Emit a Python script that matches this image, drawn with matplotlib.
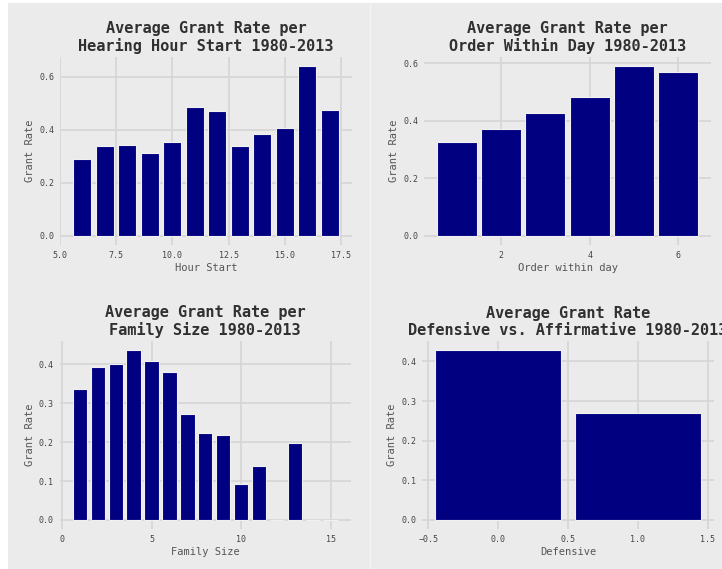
import matplotlib
matplotlib.use("Agg")
import matplotlib.pyplot as plt
from matplotlib.patches import Rectangle
from matplotlib.lines import Line2D

# data
hours = [6, 7, 8, 9, 10, 11, 12, 13, 14, 15, 16, 17]
hour_rate = [0.289, 0.339, 0.342, 0.314, 0.353, 0.485, 0.473, 0.339, 0.383, 0.406, 0.643, 0.476]

order = [1, 2, 3, 4, 5, 6]
order_rate = [0.327, 0.373, 0.426, 0.482, 0.592, 0.570]

family = [1, 2, 3, 4, 5, 6, 7, 8, 9, 10, 11, 12, 13, 14, 15]
family_rate = [0.337, 0.394, 0.401, 0.438, 0.409, 0.379, 0.272, 0.224, 0.218,
               0.092, 0.138, 0.0, 0.199, 0.0, 0.0]

defensive = [0, 1]
defensive_rate = [0.430, 0.2695]

W, H = 722, 569
BG = "#ebebeb"
GRID = "#d6d6d6"
BAR = "#000080"
MONO = "DejaVu Sans Mono"

plt.rcParams["font.family"] = MONO

fig = plt.figure(figsize=(W / 100, H / 100), dpi=100)
fig.patch.set_facecolor("white")
# gray backdrop with thin white margins at left and top
fig.patches.append(Rectangle((8 / W, 0), 1, 1 - 3 / H, transform=fig.transFigure,
                             facecolor=BG, edgecolor="none", zorder=-10))
fig.lines.append(Line2D([370 / W, 370 / W], [0, 1 - 3 / H], transform=fig.transFigure,
                        color="#f3f3f3", lw=1, zorder=-9))


def make_ax(x0, x1, y0, y1):
    ax = fig.add_axes([x0 / W, 1 - y1 / H, (x1 - x0) / W, (y1 - y0) / H])
    ax.use_sticky_edges = False  # keep the small margin below zero
    return ax


def style(ax, title, xlabel, xticks, yticks):
    ax.set_facecolor(BG)
    for s in ax.spines.values():
        s.set_visible(False)
    ax.set_axisbelow(True)
    ax.grid(True, color=GRID, lw=1.3)
    ax.set_xticks(xticks)
    ax.set_yticks(yticks)
    ax.tick_params(axis="both", length=0, labelsize=6, labelcolor="#444444")
    ax.tick_params(axis="y", pad=4)
    ax.tick_params(axis="x", pad=5)
    ax.set_title(title, fontsize=11, fontweight="bold", color="#303030", pad=4,
                 linespacing=1.2)
    ax.set_xlabel(xlabel, fontsize=7.5, color="#555555", labelpad=2)
    ax.set_ylabel("Grant Rate", fontsize=7.5, color="#555555", labelpad=3)


ax1 = make_ax(60, 352, 57, 244.5)
ax1.bar(hours, hour_rate, width=0.8, color=BAR, edgecolor="#f0f0f0", lw=0.8)
style(ax1, "Average Grant Rate per\nHearing Hour Start 1980-2013", "Hour Start",
      [5.0, 7.5, 10.0, 12.5, 15.0, 17.5], [0.0, 0.2, 0.4, 0.6])

ax2 = make_ax(424, 711, 57, 244.5)
ax2.bar(order, order_rate, width=0.9, color=BAR, edgecolor="#f0f0f0", lw=0.8)
style(ax2, "Average Grant Rate per\nOrder Within Day 1980-2013", "Order within day",
      [2, 4, 6], [0.0, 0.2, 0.4, 0.6])

ax3 = make_ax(59.5, 351, 341, 528.5)
ax3.bar(family, family_rate, width=0.8, color=BAR, edgecolor="#f0f0f0", lw=0.8)
style(ax3, "Average Grant Rate per\nFamily Size 1980-2013", "Family Size",
      [0, 5, 10, 15], [0.0, 0.1, 0.2, 0.3, 0.4])

ax4 = make_ax(422, 714, 341, 528.5)
ax4.bar(defensive, defensive_rate, width=0.9, color=BAR, edgecolor="#f0f0f0", lw=0.8)
style(ax4, "Average Grant Rate\nDefensive vs. Affirmative 1980-2013", "Defensive",
      [-0.5, 0.0, 0.5, 1.0, 1.5], [0.0, 0.1, 0.2, 0.3, 0.4])

fig.savefig("out.png", dpi=100, facecolor=fig.get_facecolor())
